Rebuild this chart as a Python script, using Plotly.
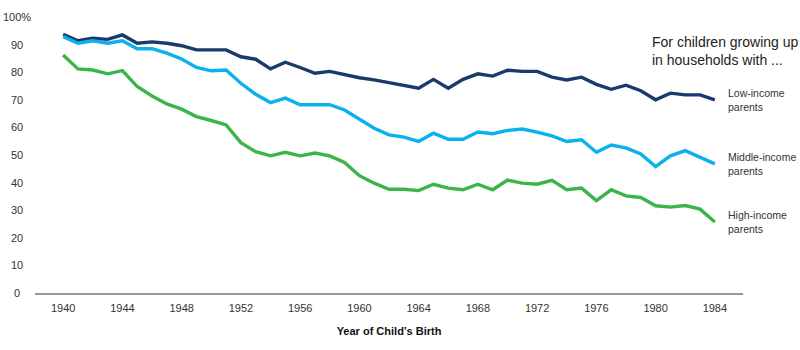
import plotly.graph_objects as go

years = list(range(1940, 1985))
low_income = [93.7, 91.4, 92.3, 91.9, 93.5, 90.5, 91.0, 90.5, 89.6, 88.1,
              88.1, 88.1, 85.6, 84.7, 81.2, 83.6, 81.7, 79.6, 80.3, 79.0,
              78.0, 77.2, 76.2, 75.4, 74.2, 77.4, 74.2, 77.4, 79.4, 78.6,
              80.7, 80.3, 80.3, 78.2, 77.2, 78.2, 75.6, 73.8, 75.3, 73.3,
              70.0, 72.4, 71.8, 71.8, 70.0]
middle_income = [92.9, 90.5, 91.4, 90.5, 91.4, 88.5, 88.5, 86.9, 84.8, 81.7,
                 80.5, 80.8, 76.0, 72.0, 69.0, 70.6, 68.2, 68.2, 68.2, 66.3,
                 63.0, 59.7, 57.3, 56.5, 54.9, 57.9, 55.7, 55.7, 58.3, 57.7,
                 58.9, 59.4, 58.3, 56.9, 54.9, 55.5, 51.0, 53.6, 52.6, 50.4,
                 45.8, 49.7, 51.6, 49.1, 46.8]
high_income = [86.2, 81.2, 80.8, 79.4, 80.6, 74.8, 71.4, 68.5, 66.6, 63.9,
               62.5, 60.9, 54.5, 51.2, 49.7, 51.0, 49.7, 50.7, 49.7, 47.3,
               42.5, 39.8, 37.6, 37.6, 37.1, 39.4, 38.0, 37.4, 39.4, 37.4,
               40.9, 39.8, 39.4, 40.8, 37.4, 38.0, 33.5, 37.4, 35.2, 34.6,
               31.6, 31.1, 31.7, 30.4, 25.7]

series_names = ["Low-income<br>parents", "Middle-income<br>parents", "High-income<br>parents"]
series_values = [low_income, middle_income, high_income]
series_colors = ["#1b3a6c", "#0bb0ef", "#3bb54a"]

x_tick_vals = list(range(1940, 1985, 4))
y_tick_vals = [0, 10, 20, 30, 40, 50, 60, 70, 80, 90, 100]
y_tick_text = ["0", "10", "20", "30", "40", "50", "60", "70", "80", "90", "100%"]

FONT = "Liberation Sans, Arial, Helvetica, sans-serif"

fig = go.Figure()
for name, vals, col in zip(series_names, series_values, series_colors):
    fig.add_trace(go.Scatter(x=years, y=vals, mode="lines", name=name,
                             line=dict(color=col, width=3.4), showlegend=False,
                             hoverinfo="skip"))

annotations = []
# y tick labels, centred in a column left of the plot
for v, t in zip(y_tick_vals, y_tick_text):
    annotations.append(dict(x=(17 - 35) / 708.0, xref="paper", y=v, yref="y",
                            text=t, showarrow=False,
                            font=dict(family=FONT, size=11, color="#333"),
                            xanchor="center", yanchor="middle"))

# series end labels
for name, vals, col in zip(series_names, series_values, series_colors):
    annotations.append(dict(x=years[-1], y=vals[-1], xref="x", yref="y",
                            text=name, showarrow=False, xanchor="left", yanchor="middle",
                            xshift=11, align="left",
                            font=dict(family=FONT, size=10.5, color="#333")))
annotations.append(dict(x=1979.6, y=87.6, xref="x", yref="y",
                        text="For children growing up<br>in households with ...",
                        showarrow=False, xanchor="left", yanchor="middle", align="left",
                        font=dict(family=FONT, size=14, color="#222")))

fig.update_layout(
    width=800, height=350,
    margin=dict(l=35, r=57, t=17, b=57),
    paper_bgcolor="white", plot_bgcolor="white",
    font=dict(family=FONT, size=11, color="#333"),
    annotations=annotations,
    xaxis=dict(range=[1938.1, 1985.9], tickmode="array", tickvals=x_tick_vals,
               showgrid=False, zeroline=False, showline=True, linecolor="#999999",
               linewidth=2, ticks="", ticklabelstandoff=4,
               tickfont=dict(family=FONT, size=11, color="#333"),
               title=dict(text="<b>Year of Child’s Birth</b>", standoff=14,
                          font=dict(family=FONT, size=11, color="#111"))),
    yaxis=dict(range=[0, 100], showgrid=False, zeroline=False, showline=False,
               showticklabels=False, ticks=""),
)

fig.write_html("out.html")
